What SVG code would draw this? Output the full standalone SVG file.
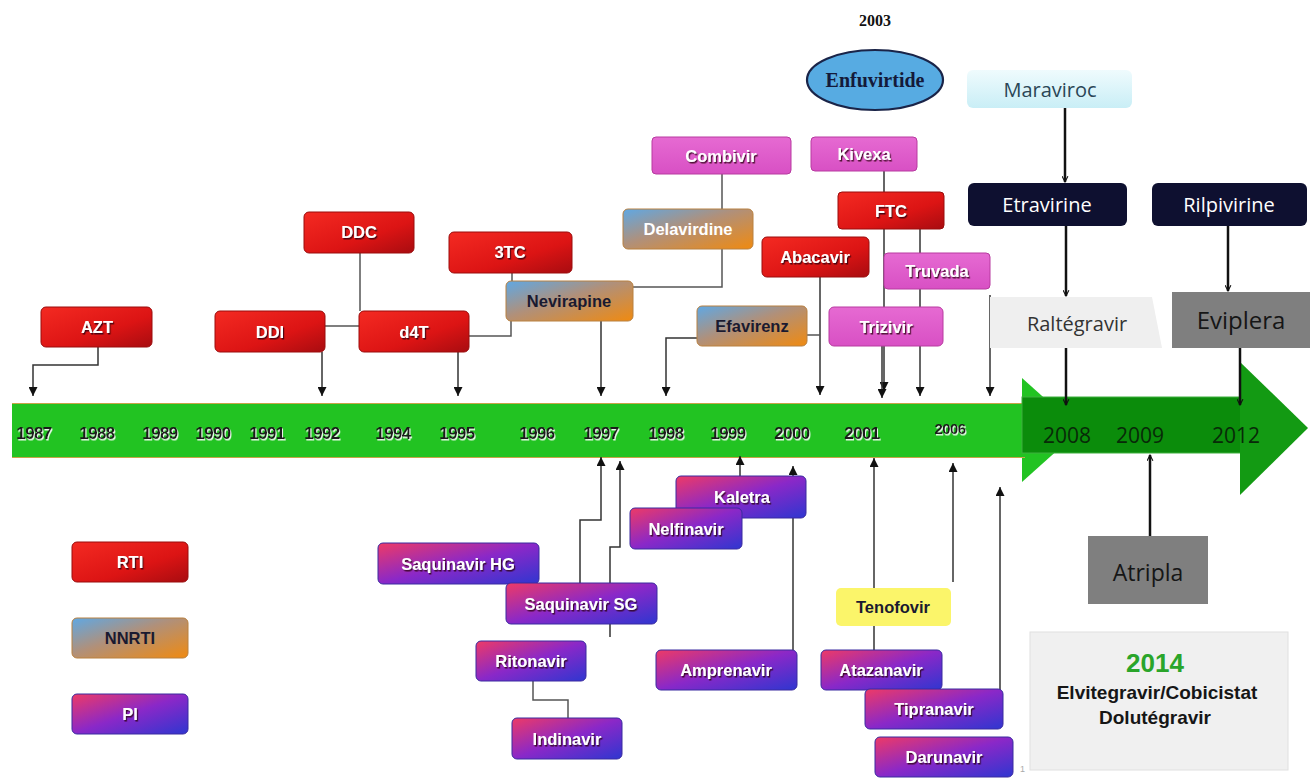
<svg xmlns="http://www.w3.org/2000/svg" width="1314" height="782" viewBox="0 0 1314 782">
<defs>
<linearGradient id="gRed" x1="0" y1="0" x2="1" y2="1"><stop offset="0" stop-color="#f42a22"/><stop offset="0.6" stop-color="#dc1414"/><stop offset="1" stop-color="#a80c10"/></linearGradient>
<linearGradient id="gNN" x1="0" y1="0" x2="1" y2="1"><stop offset="0" stop-color="#5fa8e4"/><stop offset="0.45" stop-color="#b0907a"/><stop offset="1" stop-color="#f08a10"/></linearGradient>
<linearGradient id="gPI" x1="0" y1="0" x2="1" y2="1"><stop offset="0" stop-color="#ee3a66"/><stop offset="0.5" stop-color="#8a28c8"/><stop offset="1" stop-color="#2f36d0"/></linearGradient>
<linearGradient id="gPink" x1="0" y1="0" x2="0" y2="1"><stop offset="0" stop-color="#e66ad2"/><stop offset="1" stop-color="#d850c4"/></linearGradient>
<linearGradient id="gCyan" x1="0" y1="0" x2="0" y2="1"><stop offset="0" stop-color="#effbfd"/><stop offset="1" stop-color="#c9eef6"/></linearGradient>
<filter id="sh" x="-10%" y="-20%" width="130%" height="150%"><feDropShadow dx="1.2" dy="1.5" stdDeviation="0.6" flood-color="#2a0010" flood-opacity="0.8"/></filter>
<filter id="wsh" x="-10%" y="-20%" width="130%" height="150%"><feDropShadow dx="1" dy="1.5" stdDeviation="0.3" flood-color="#ffffff" flood-opacity="0.9"/></filter>
<marker id="ar" viewBox="0 0 10 10" refX="10" refY="5" markerWidth="6" markerHeight="6" orient="auto"><path d="M0,0 L10,5 L0,10 Z" fill="#111"/></marker>
<marker id="open" viewBox="0 0 12 12" refX="11" refY="6" markerWidth="7" markerHeight="7" orient="auto" markerUnits="userSpaceOnUse"><path d="M1,1 L11,6 L1,11" fill="none" stroke="#111" stroke-width="1.8"/></marker>
</defs>
<style>
.lbl{font-family:"Liberation Sans","Open Sans",sans-serif;font-weight:bold;font-size:16.5px;text-anchor:middle;fill:#fff;}
.lw{filter:url(#sh);}
.ld{fill:#1a1a30;}
.red rect{fill:url(#gRed);stroke:#9a0c0c;stroke-width:1;}
.nn rect{fill:url(#gNN);stroke:#b88040;stroke-width:1;}
.pi rect{fill:url(#gPI);stroke:#3a2aa0;stroke-width:1;}
.pk rect{fill:url(#gPink);stroke:#b83aa0;stroke-width:1;}
.cl{fill:none;stroke:#555;stroke-width:1.5;}
.ca{fill:none;stroke:#333;stroke-width:1.5;marker-end:url(#ar);}
.bk{fill:none;stroke:#111;stroke-width:2.5;marker-end:url(#open);}
.yr{font-family:"Liberation Sans",sans-serif;font-weight:bold;font-size:17px;letter-spacing:-0.6px;fill:#1a1a1a;text-anchor:middle;filter:url(#wsh);}
.yr2{font-family:"Open Sans","Liberation Sans",sans-serif;font-size:21px;fill:#082a08;text-anchor:middle;}
.big{font-family:"Open Sans","Liberation Sans",sans-serif;text-anchor:middle;}
</style>
<rect width="1314" height="782" fill="#ffffff"/>

<g id="timeline">
<polygon points="1022,378 1080,430 1022,482" fill="#22c322"/>
<rect x="12" y="403" width="1013" height="55" fill="#22c322"/>
<line x1="12" y1="403.5" x2="1025" y2="403.5" stroke="#c8a448" stroke-width="1"/>
<line x1="12" y1="457.5" x2="1025" y2="457.5" stroke="#c8a448" stroke-width="1"/>
<rect x="1022" y="397" width="226" height="56" fill="#0b8c0b" stroke="#3fb03f" stroke-width="1"/>
<polygon points="1240,362 1308,428 1240,495" fill="#139a13"/>
<g>
<text class="yr" x="34" y="439">1987</text>
<text class="yr" x="97" y="439">1988</text>
<text class="yr" x="160" y="439">1989</text>
<text class="yr" x="213" y="439">1990</text>
<text class="yr" x="267" y="439">1991</text>
<text class="yr" x="322" y="439">1992</text>
<text class="yr" x="393" y="439">1994</text>
<text class="yr" x="457" y="439">1995</text>
<text class="yr" x="537" y="439">1996</text>
<text class="yr" x="601" y="439">1997</text>
<text class="yr" x="666" y="439">1998</text>
<text class="yr" x="728" y="439">1999</text>
<text class="yr" x="792" y="439">2000</text>
<text class="yr" x="862" y="439">2001</text>
<text class="yr" x="950" y="434" style="font-size:15px">2006</text>
<text class="yr2" x="1067" y="443">2008</text>
<text class="yr2" x="1140" y="443">2009</text>
<text class="yr2" x="1236" y="443">2012</text>
</g>
</g>

<g id="connectors">
<path class="ca" d="M98,347 V365 H33 V396"/>
<path class="ca" d="M322,352 V396"/>
<path class="cl" d="M360,253 V311"/>
<path class="cl" d="M325,326 H359"/>
<path class="ca" d="M458,352 V396"/>
<path class="cl" d="M469,336 H511 V321"/>
<path class="cl" d="M512,273 V281"/>
<path class="ca" d="M601,321 V396"/>
<path class="cl" d="M633,287 H722 V174"/>
<path class="ca" d="M697,338 H666 V396"/>
<path class="ca" d="M820,277 V395"/>
<path class="cl" d="M807,335 H820"/>
<path class="ca" d="M884,171 V391"/>
<path class="ca" d="M882,346 V398"/>
<path class="ca" d="M920,229 V396"/>
<path class="ca" d="M990,295 V396"/>
<path class="bk" d="M1065,108 V182"/>
<path class="bk" d="M1066,226 V296"/>
<path class="bk" d="M1228,226 V291"/>
<path class="bk" d="M1066,348 V405"/>
<path class="bk" d="M1240,348 V405"/>
<path class="bk" d="M1150,536 V455"/>
<path class="ca" d="M740,476 V456"/>
<path class="ca" d="M793,650 V466"/>
<path class="ca" d="M580,583 V520 H601 V457"/>
<path class="ca" d="M610,637 V547 H620 V461"/>
<path class="cl" d="M533,681 V700 H568 V718"/>
<path class="ca" d="M953,582 V463"/>
<path class="ca" d="M874,652 V458"/>
<path class="ca" d="M1000,717 V487"/>
</g>

<g id="n2003"><text x="875" y="26" style="font-family:'Liberation Serif',serif;font-weight:bold;font-size:16px;text-anchor:middle;fill:#111">2003</text></g>
<g id="enfuvirtide"><ellipse cx="875" cy="80" rx="68" ry="30" fill="#57abe2" stroke="#1a2448" stroke-width="2.2"/><text x="875" y="87" style="font-family:'Liberation Serif',serif;font-weight:bold;font-size:20px;text-anchor:middle;fill:#141a3a">Enfuvirtide</text></g>

<g id="azt" class="red"><rect x="41" y="307" width="111" height="40" rx="5"/><text class="lbl lw" x="97" y="333">AZT</text></g>
<g id="ddi" class="red"><rect x="215" y="311" width="110" height="41" rx="5"/><text class="lbl lw" x="270" y="338">DDI</text></g>
<g id="ddc" class="red"><rect x="304" y="212" width="110" height="41" rx="5"/><text class="lbl lw" x="359" y="238">DDC</text></g>
<g id="d4t" class="red"><rect x="359" y="311" width="110" height="41" rx="5"/><text class="lbl lw" x="414" y="338">d4T</text></g>
<g id="n3tc" class="red"><rect x="449" y="232" width="123" height="41" rx="5"/><text class="lbl lw" x="510" y="258">3TC</text></g>
<g id="nevirapine" class="nn"><rect x="506" y="281" width="127" height="40" rx="5"/><text class="lbl ld" x="569" y="307">Nevirapine</text></g>
<g id="combivir" class="pk"><rect x="652" y="137" width="139" height="37" rx="4"/><text class="lbl lw" x="721" y="162">Combivir</text></g>
<g id="delavirdine" class="nn"><rect x="623" y="209" width="130" height="40" rx="5"/><text class="lbl" x="688" y="235">Delavirdine</text></g>
<g id="kivexa" class="pk"><rect x="811" y="137" width="106" height="34" rx="4"/><text class="lbl lw" x="864" y="160">Kivexa</text></g>
<g id="ftc" class="red"><rect x="838" y="192" width="106" height="37" rx="4"/><text class="lbl lw" x="891" y="217">FTC</text></g>
<g id="abacavir" class="red"><rect x="762" y="237" width="107" height="40" rx="5"/><text class="lbl lw" x="815" y="263">Abacavir</text></g>
<g id="truvada" class="pk"><rect x="884" y="253" width="106" height="36" rx="4"/><text class="lbl lw" x="937" y="277">Truvada</text></g>
<g id="efavirenz" class="nn"><rect x="697" y="306" width="110" height="40" rx="5"/><text class="lbl ld" x="752" y="332">Efavirenz</text></g>
<g id="trizivir" class="pk"><rect x="829" y="307" width="114" height="39" rx="5"/><text class="lbl lw" x="886" y="333">Trizivir</text></g>

<g id="maraviroc"><rect x="967" y="70" width="165" height="38" rx="6" fill="url(#gCyan)"/><text class="big" x="1050" y="97" style="font-size:20px;fill:#2a4656">Maraviroc</text></g>
<g id="etravirine"><rect x="968" y="183" width="159" height="43" rx="6" fill="#0e1030"/><text class="big" x="1047" y="212" style="font-size:20px;fill:#fff">Etravirine</text></g>
<g id="rilpivirine"><rect x="1152" y="183" width="155" height="43" rx="6" fill="#0e1030"/><text class="big" x="1229" y="212" style="font-size:20px;fill:#fff">Rilpivirine</text></g>
<g id="raltegravir"><path d="M990,297 H1152 L1162,348 H990 Z" fill="#efefef"/><text class="big" x="1077" y="331" style="font-size:20px;fill:#333">Raltégravir</text></g>
<g id="eviplera"><rect x="1172" y="292" width="138" height="56" fill="#7f7f7f"/><text class="big" x="1241" y="329" style="font-size:24px;fill:#161616">Eviplera</text></g>
<g id="atripla"><rect x="1088" y="536" width="120" height="68" fill="#7f7f7f"/><text class="big" x="1148" y="581" style="font-size:23px;fill:#161616">Atripla</text></g>
<g id="box2014"><rect x="1030" y="632" width="258" height="138" fill="#f0f0f0" stroke="#e0e0e0"/>
<text x="1155" y="672" style="font-family:'Liberation Sans',sans-serif;font-weight:bold;font-size:26px;text-anchor:middle;fill:#2aa52a">2014</text>
<text x="1157" y="699" style="font-family:'Liberation Sans',sans-serif;font-weight:bold;font-size:19px;text-anchor:middle;fill:#161616">Elvitegravir/Cobicistat</text>
<text x="1155" y="724" style="font-family:'Liberation Sans',sans-serif;font-weight:bold;font-size:19px;text-anchor:middle;fill:#161616">Dolutégravir</text>
</g>

<g id="kaletra" class="pi"><rect x="676" y="476" width="130" height="42" rx="5"/><text class="lbl lw" x="742" y="503">Kaletra</text></g>
<g id="nelfinavir" class="pi"><rect x="630" y="508" width="112" height="41" rx="5"/><text class="lbl lw" x="686" y="535">Nelfinavir</text></g>
<g id="saqhg" class="pi"><rect x="378" y="543" width="161" height="41" rx="5"/><text class="lbl lw" x="458" y="570">Saquinavir HG</text></g>
<g id="saqsg" class="pi"><rect x="506" y="583" width="151" height="41" rx="5"/><text class="lbl lw" x="581" y="610">Saquinavir SG</text></g>
<g id="ritonavir" class="pi"><rect x="476" y="641" width="110" height="40" rx="5"/><text class="lbl lw" x="531" y="667">Ritonavir</text></g>
<g id="indinavir" class="pi"><rect x="512" y="718" width="110" height="41" rx="5"/><text class="lbl lw" x="567" y="745">Indinavir</text></g>
<g id="amprenavir" class="pi"><rect x="656" y="650" width="141" height="40" rx="5"/><text class="lbl lw" x="726" y="676">Amprenavir</text></g>
<g id="tenofovir"><rect x="836" y="588" width="115" height="38" rx="5" fill="#fbf56a"/><text class="lbl ld" x="893" y="613">Tenofovir</text></g>
<g id="atazanavir" class="pi"><rect x="821" y="650" width="121" height="40" rx="5"/><text class="lbl lw" x="881" y="676">Atazanavir</text></g>
<g id="tipranavir" class="pi"><rect x="865" y="689" width="138" height="40" rx="5"/><text class="lbl lw" x="934" y="715">Tipranavir</text></g>
<g id="darunavir" class="pi"><rect x="875" y="737" width="138" height="40" rx="5"/><text class="lbl lw" x="944" y="763">Darunavir</text></g>
<text x="1020" y="772" style="font-family:'Liberation Sans',sans-serif;font-size:9px;fill:#aaa">1</text>

<g id="legend-rti" class="red"><rect x="72" y="542" width="116" height="40" rx="5"/><text class="lbl lw" x="130" y="568">RTI</text></g>
<g id="legend-nnrti" class="nn"><rect x="72" y="618" width="116" height="40" rx="5"/><text class="lbl ld" x="130" y="644">NNRTI</text></g>
<g id="legend-pi" class="pi"><rect x="72" y="694" width="116" height="40" rx="5"/><text class="lbl lw" x="130" y="720">PI</text></g>
</svg>
